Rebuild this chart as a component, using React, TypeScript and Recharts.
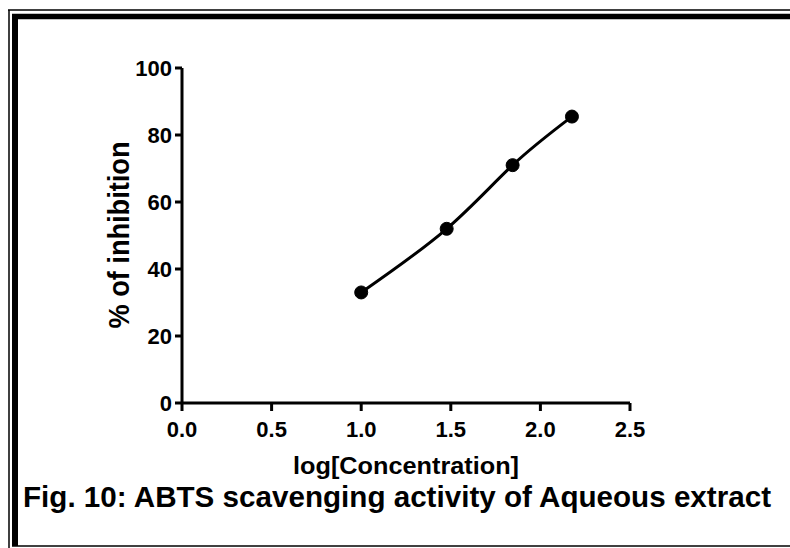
import React from 'react'
import { LineChart, Line, XAxis, YAxis, Label } from 'recharts'

const logConc = [1.0, 1.477, 1.845, 2.176]
const inhibition = [33, 52, 71, 85.5]
const xTicks = [0, 0.5, 1.0, 1.5, 2.0, 2.5]
const yTicks = [0, 20, 40, 60, 80, 100]

const xTitle = 'log[Concentration]'
const yTitle = '% of inhibition'
const caption = 'Fig. 10: ABTS scavenging activity of Aqueous extract'

const font = '"Liberation Sans", Arial, sans-serif'

const chartData = logConc.map((x, i) => ({ x, y: inhibition[i] }))

function Frame() {
  // double border around the figure, right edge is cut off in the original
  return (
    <svg
      width={790}
      height={548}
      style={{ position: 'absolute', left: 0, top: 0, pointerEvents: 'none' }}
    >
      <line x1={8} y1={10} x2={790} y2={10} stroke="#000" strokeWidth={1.5} />
      <line x1={9} y1={10} x2={9} y2={548} stroke="#000" strokeWidth={1.5} />
      <line x1={12} y1={16.5} x2={790} y2={16.5} stroke="#000" strokeWidth={5.5} />
      <line x1={15} y1={14} x2={15} y2={546} stroke="#000" strokeWidth={6} />
      <line x1={12} y1={546} x2={790} y2={546} stroke="#000" strokeWidth={1.5} />
      <text
        x={23}
        y={507}
        fontFamily={font}
        fontWeight="bold"
        fontSize={29}
        textLength={748}
        lengthAdjust="spacingAndGlyphs"
        fill="#000"
      >
        {caption}
      </text>
    </svg>
  )
}

export default function App() {
  const tickStyle = { fontFamily: font, fontWeight: 'bold', fontSize: 22, fill: '#000' }
  return (
    <div style={{ position: 'relative', width: 790, height: 548, background: '#fff' }}>
      <style>{'body{margin:0}'}</style>
      <LineChart
        width={790}
        height={548}
        data={chartData}
        margin={{ top: 68, right: 160, bottom: 85, left: 102 }}
        style={{ position: 'absolute', left: 0, top: 0 }}
      >
        <XAxis
          dataKey="x"
          type="number"
          domain={[0, 2.5]}
          ticks={xTicks}
          tickFormatter={(v: number) => v.toFixed(1)}
          height={60}
          stroke="#000"
          strokeWidth={3}
          tickSize={8}
          tickMargin={10}
          tick={tickStyle}
          allowDataOverflow
        >
          <Label
            content={({ viewBox }: any) => (
              <text
                x={viewBox.x + viewBox.width / 2 - 113}
                y={474}
                fontFamily={font}
                fontWeight="bold"
                fontSize={24}
                textLength={226}
                lengthAdjust="spacingAndGlyphs"
                fill="#000"
              >
                {xTitle}
              </text>
            )}
          />
        </XAxis>
        <YAxis
          type="number"
          domain={[0, 100]}
          ticks={yTicks}
          width={80}
          stroke="#000"
          strokeWidth={3}
          tickSize={7}
          tickMargin={3}
          tick={tickStyle}
        >
          <Label
            content={({ viewBox }: any) => {
              const bx = 129
              const by = viewBox.y + viewBox.height / 2 + 93
              return (
                <text
                  x={bx}
                  y={by}
                  transform={`rotate(-90 ${bx} ${by})`}
                  fontFamily={font}
                  fontWeight="bold"
                  fontSize={30}
                  textLength={187}
                  lengthAdjust="spacingAndGlyphs"
                  fill="#000"
                >
                  {yTitle}
                </text>
              )
            }}
          />
        </YAxis>
        <Line
          type="natural"
          dataKey="y"
          stroke="#000"
          strokeWidth={3}
          dot={{ r: 6.5, fill: '#000', stroke: '#000', strokeWidth: 1 }}
          isAnimationActive={false}
        />
      </LineChart>
      <Frame />
    </div>
  )
}
